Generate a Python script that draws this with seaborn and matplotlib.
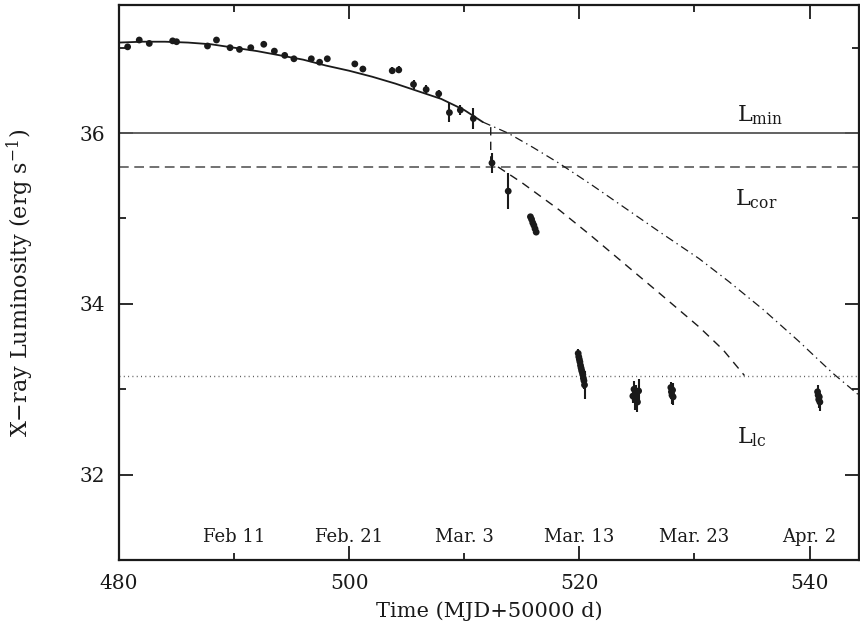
import numpy as np
import pandas as pd
import matplotlib
matplotlib.use('Agg')
import matplotlib.pyplot as plt
import seaborn as sns

# observed points (MJD-50000, log L, error)
t_obs = [480.75, 481.76, 482.63, 484.66, 485.0, 487.69, 488.47, 489.65, 490.47,
         491.45, 492.58, 493.50, 494.40, 495.20, 496.71, 497.43, 498.10, 500.49,
         501.19, 503.74, 504.31, 505.59, 506.69, 507.78, 508.71, 509.66, 510.79,
         512.41, 513.82]
L_obs = [37.01, 37.09, 37.05, 37.08, 37.07, 37.02, 37.09, 37.00, 36.98,
         37.00, 37.04, 36.96, 36.91, 36.87, 36.87, 36.83, 36.87, 36.81,
         36.75, 36.73, 36.74, 36.57, 36.51, 36.46, 36.24, 36.27, 36.17,
         35.65, 35.32]
e_obs = [0.03, 0.02, 0.02, 0.02, 0.03, 0.02, 0.02, 0.02, 0.02,
         0.02, 0.02, 0.02, 0.02, 0.02, 0.02, 0.03, 0.03, 0.02,
         0.03, 0.04, 0.04, 0.05, 0.05, 0.05, 0.11, 0.06, 0.12,
         0.12, 0.21]

# dense clusters of later observations
t_c1 = [515.75, 515.85, 515.95, 516.05, 516.15, 516.25]
L_c1 = [35.02, 34.99, 34.95, 34.92, 34.88, 34.84]
e_c1 = [0.02, 0.02, 0.02, 0.02, 0.02, 0.02]

t_c2 = [519.9, 519.95, 520.0, 520.05, 520.1, 520.15, 520.2, 520.25, 520.3, 520.35, 520.4, 520.45]
L_c2 = [33.42, 33.38, 33.35, 33.32, 33.28, 33.25, 33.22, 33.20, 33.17, 33.13, 33.10, 33.05]
e_c2 = [0.05, 0.06, 0.06, 0.07, 0.06, 0.08, 0.07, 0.08, 0.09, 0.08, 0.1, 0.16]

t_c3 = [524.65, 524.75, 524.85, 524.95, 525.05, 525.15]
L_c3 = [32.92, 33.00, 32.88, 32.95, 32.85, 32.98]
e_c3 = [0.08, 0.10, 0.12, 0.10, 0.12, 0.14]

t_c4 = [527.95, 528.0, 528.05, 528.1, 528.15]
L_c4 = [33.02, 32.97, 32.93, 32.99, 32.91]
e_c4 = [0.07, 0.09, 0.1, 0.08, 0.1]

t_c5 = [540.7, 540.75, 540.8, 540.85, 540.9]
L_c5 = [32.97, 32.93, 32.88, 32.91, 32.85]
e_c5 = [0.08, 0.09, 0.1, 0.08, 0.1]

# model curves
t_fit = [480, 482, 484, 486, 488, 490, 492, 494, 496, 498, 500, 502, 504, 506, 508, 510, 511.6]
L_fit = [37.06, 37.07, 37.07, 37.06, 37.04, 37.00, 36.96, 36.91, 36.86, 36.79, 36.73,
         36.66, 36.58, 36.49, 36.40, 36.27, 36.13]

t_ext = [511.6, 513.8, 516, 518.2, 521, 524, 527, 530.4, 533, 536, 539, 542, 544.3]
L_ext = [36.13, 36.00, 35.83, 35.65, 35.40, 35.12, 34.84, 34.53, 34.26, 33.93, 33.57, 33.19, 32.93]

t_cor = [512.3, 512.3, 515, 518.25, 521, 524, 527, 530.4, 532.5, 534.35]
L_cor = [36.07, 35.66, 35.42, 35.10, 34.80, 34.46, 34.12, 33.73, 33.46, 33.16]

L_min_level = 36.0
L_cor_level = 35.6
L_lc_level = 33.15

date_ticks = [490, 500, 510, 520, 530, 540]
date_labels = ['Feb 11', 'Feb. 21', 'Mar. 3', 'Mar. 13', 'Mar. 23', 'Apr. 2']

sns.set_theme(style='ticks')
plt.rcParams['font.family'] = ['DejaVu Serif']
plt.rcParams['mathtext.fontset'] = 'custom'
plt.rcParams['mathtext.rm'] = 'DejaVu Serif'
plt.rcParams['lines.scale_dashes'] = False
plt.rcParams['text.color'] = 'black'
plt.rcParams['axes.labelcolor'] = 'black'
plt.rcParams['xtick.color'] = 'black'
plt.rcParams['ytick.color'] = 'black'

fig = plt.figure(figsize=(8.6, 6.21), dpi=100)
ax = fig.add_axes([119 / 860, 61 / 621, 740 / 860, 555 / 621])

# reference levels
ax.axhline(L_min_level, color='#555555', lw=1.3, zorder=1)
ax.axhline(L_cor_level, color='#666666', lw=1.3, ls=(0, (7, 4)), zorder=1)
ax.axhline(L_lc_level, color='#555555', lw=1.0, ls=(0, (0.7, 2.4)), zorder=1)

sns.lineplot(x=t_fit, y=L_fit, ax=ax, color='k', lw=1.3, sort=False, estimator=None)
sns.lineplot(x=t_ext, y=L_ext, ax=ax, color='k', lw=0.9, sort=False, estimator=None,
             linestyle=(0, (6, 3, 1, 3)))
sns.lineplot(x=t_cor, y=L_cor, ax=ax, color='k', lw=1.0, sort=False, estimator=None,
             linestyle=(0, (6, 4.5)))

all_t = t_obs + t_c1 + t_c2 + t_c3 + t_c4 + t_c5
all_L = L_obs + L_c1 + L_c2 + L_c3 + L_c4 + L_c5
all_e = e_obs + e_c1 + e_c2 + e_c3 + e_c4 + e_c5
ax.errorbar(all_t, all_L, yerr=all_e, fmt='none', ecolor='k', elinewidth=1.5, capsize=0, zorder=3)
sns.scatterplot(x=all_t, y=all_L, ax=ax, color='k', s=24, edgecolor='none', zorder=4)

ax.set_xlim(480, 544.3)
ax.set_ylim(31, 37.5)
ax.set_xticks([480, 500, 520, 540])
ax.set_xticks([490, 510, 530], minor=True)
ax.set_yticks([32, 34, 36])
ax.set_yticks([31, 33, 35, 37], minor=True)
ax.tick_params(which='both', direction='in', top=True, right=True, width=1.3,
               labelsize=14.5, color='k', labelcolor='k')
ax.tick_params(which='major', length=10, pad=10)
ax.tick_params(which='minor', length=5)
for s in ax.spines.values():
    s.set_linewidth(1.6)
    s.set_color('k')

for d, lab in zip(date_ticks, date_labels):
    ax.text(d, 31.27, lab, ha='center', va='center', fontsize=13, color='k')

ax.text(535.7, 36.21, r'$\mathrm{L_{min}}$', ha='center', va='center', fontsize=16, color='k')
ax.text(535.4, 35.22, r'$\mathrm{L_{cor}}$', ha='center', va='center', fontsize=16, color='k')
ax.text(535.0, 32.44, r'$\mathrm{L_{lc}}$', ha='center', va='center', fontsize=16, color='k')

ax.set_xlabel('Time (MJD+50000 d)', fontsize=15, labelpad=6, color='k')
ax.set_ylabel(r'X$-$ray Luminosity (erg s$^{-1}$)', fontsize=16, color='k')
ax.yaxis.set_label_coords(-0.112, 0.5)

fig.savefig('out.png', dpi=100)
